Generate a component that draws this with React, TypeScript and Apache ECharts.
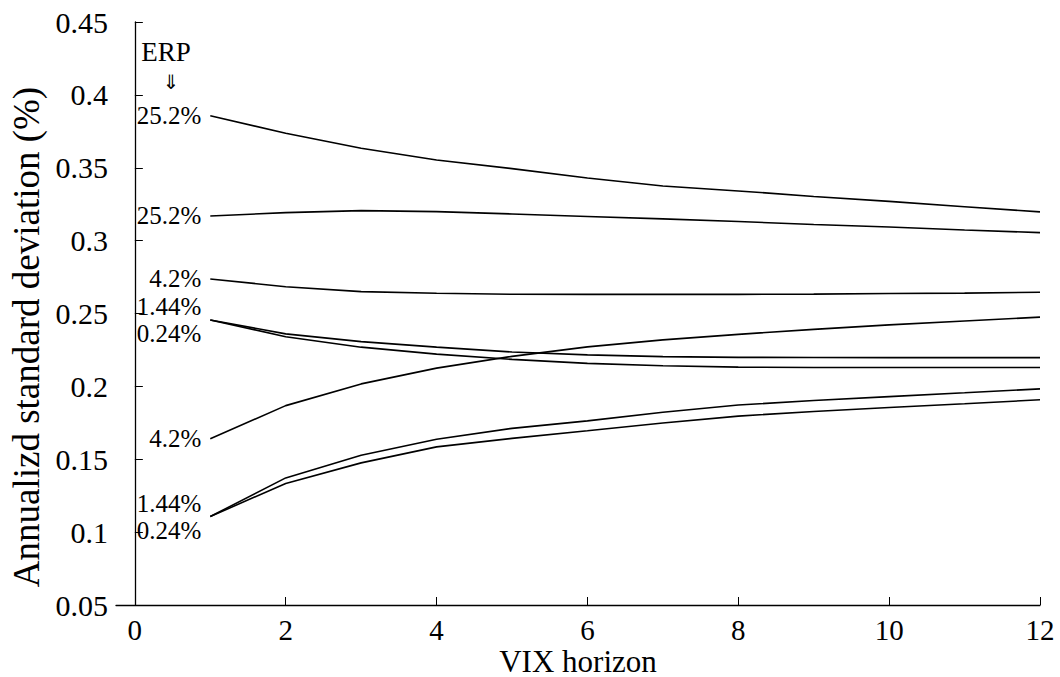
import React, { useEffect, useRef } from "react";
import * as echarts from "echarts";

const horizons = [1, 2, 3, 4, 5, 6, 7, 8, 9, 10, 11, 12];
const xTicks = [0, 2, 4, 6, 8, 10, 12];

const erp252High = [0.3857, 0.3737, 0.3634, 0.3553, 0.3494, 0.343, 0.3375, 0.3341, 0.3303, 0.3269, 0.3232, 0.3197];
const erp252Low = [0.3169, 0.3192, 0.3206, 0.3199, 0.3183, 0.3166, 0.3149, 0.3131, 0.3111, 0.3093, 0.3073, 0.3055];
const erp42High = [0.2737, 0.2684, 0.265, 0.2639, 0.2632, 0.2631, 0.2631, 0.2631, 0.2633, 0.2637, 0.264, 0.2646];
const erp144High = [0.2456, 0.236, 0.2307, 0.2269, 0.2236, 0.2216, 0.2204, 0.2199, 0.2198, 0.2197, 0.2197, 0.2197];
const erp024High = [0.2456, 0.2341, 0.2269, 0.2221, 0.2185, 0.2158, 0.2141, 0.2132, 0.213, 0.2129, 0.2129, 0.2129];
const erp42Low = [0.164, 0.1868, 0.2017, 0.2125, 0.2206, 0.2271, 0.2319, 0.2357, 0.2391, 0.2422, 0.2449, 0.2475];
const erp144Low = [0.1107, 0.1372, 0.1528, 0.1637, 0.1712, 0.1763, 0.1822, 0.1872, 0.1903, 0.193, 0.1956, 0.1983];
const erp024Low = [0.1107, 0.1334, 0.1475, 0.1585, 0.1643, 0.1695, 0.1749, 0.1796, 0.1828, 0.1855, 0.1881, 0.1908];

const seriesLabels = ["25.2%", "25.2%", "4.2%", "1.44%", "0.24%", "4.2%", "1.44%", "0.24%"];
const seriesValues = [erp252High, erp252Low, erp42High, erp144High, erp024High, erp42Low, erp144Low, erp024Low];
const labelShift = [0, 0, 0, -13, 13.5, 0, -13, 13.5];

const FONT = "Liberation Serif";

export default function App() {
  const ref = useRef<HTMLDivElement>(null);
  useEffect(() => {
    if (!ref.current) return;
    const chart = echarts.init(ref.current, null, { renderer: "svg" });
    const series = seriesValues.map((vals, si) => ({
      type: "line",
      name: seriesLabels[si] + " #" + si,
      symbol: "circle",
      symbolSize: 0,
      showSymbol: true,
      lineStyle: { color: "#000", width: 1.6 },
      itemStyle: { color: "#000" },
      emphasis: { disabled: true },
      data: vals.map((v, i) =>
        i === 0
          ? {
              value: [horizons[i], v],
              label: {
                show: true,
                position: "left",
                distance: 9,
                offset: [0, labelShift[si]],
                formatter: seriesLabels[si],
                fontSize: 25,
                fontFamily: FONT,
                color: "#000",
              },
            }
          : [horizons[i], v]
      ),
    }));
    chart.setOption({
      animation: false,
      backgroundColor: "#fff",
      textStyle: { fontFamily: FONT, color: "#000" },
      grid: { left: 116, top: 22, right: 20, bottom: 72, containLabel: false, outerBoundsMode: "none" },
      xAxis: {
        type: "value",
        min: -0.25,
        max: 12,
        axisLine: { show: true, onZero: false, lineStyle: { color: "#000", width: 1.3 } },
        axisTick: { show: true, inside: true, length: 8, customValues: xTicks, lineStyle: { color: "#000", width: 1 } },
        axisLabel: { customValues: xTicks, fontSize: 29, fontFamily: FONT, color: "#000", margin: 10 },
        splitLine: { show: false },
      },
      yAxis: {
        type: "value",
        min: 0.05,
        max: 0.45,
        interval: 0.05,
        axisLine: { show: true, lineStyle: { color: "#000", width: 1.3 } },
        axisTick: { show: true, inside: true, length: 8, lineStyle: { color: "#000", width: 1 } },
        axisLabel: {
          fontSize: 30,
          fontFamily: FONT,
          color: "#000",
          margin: 8,
          formatter: (v: number) => String(parseFloat(v.toFixed(2))),
        },
        splitLine: { show: false },
      },
      graphic: [
        {
          type: "text",
          x: 578,
          y: 661,
          style: {
            text: "VIX horizon",
            fontSize: 31,
            fontFamily: FONT,
            fill: "#000",
            align: "center",
            verticalAlign: "middle",
          },
        },
        {
          type: "text",
          x: 26,
          y: 337,
          rotation: Math.PI / 2,
          style: {
            text: "Annualizd standard deviation (%)",
            fontSize: 37,
            fontFamily: FONT,
            fill: "#000",
            align: "center",
            verticalAlign: "middle",
          },
        },
        {
          type: "text",
          x: 166,
          y: 52,
          style: { text: "ERP", fontSize: 27, fontFamily: FONT, fill: "#000", align: "center", verticalAlign: "middle" },
        },
        {
          type: "text",
          x: 171,
          y: 82,
          style: { text: "⇓", fontSize: 20, fontFamily: "DejaVu Sans", fill: "#000", align: "center", verticalAlign: "middle" },
        },
      ],
      series,
    });
    return () => chart.dispose();
  }, []);
  return <div ref={ref} style={{ position: "absolute", left: 0, top: 0, width: 1060, height: 677 }} />;
}
